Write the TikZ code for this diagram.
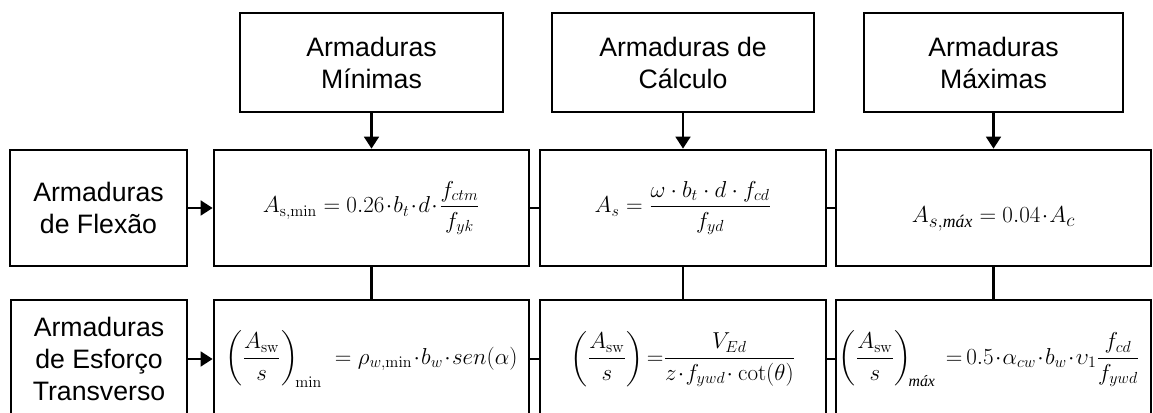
\documentclass[tikz,border=0pt]{standalone}
\usepackage{amsmath}
\usepackage[no-math]{fontspec}
\setmainfont{Liberation Sans}
\newfontfamily\serifitfont{Liberation Serif}
\usetikzlibrary{arrows.meta}
\tikzset{
  box/.style={draw, line width=2pt, align=center, inner sep=0pt,
    font=\fontsize{20}{24}\selectfont},
  fbox/.style={draw, line width=2pt, align=center, inner sep=0pt,
    font=\fontsize{17}{20}\selectfont},
  conn/.style={line width=2pt},
  arr/.style={line width=2pt, -{Triangle[length=9pt,width=11pt]}},
}
\newcommand{\tdot}{\mkern1mu{\cdot}\mkern1mu}
\newcommand{\maxsub}{\text{\serifitfont\itshape máx}}
\begin{document}
\begin{tikzpicture}[x=0.75pt,y=-0.75pt]
\useasboundingbox (0,0) rectangle (1153,413);
\clip (0,0) rectangle (1153,413);
% top boxes
\node[box, minimum width=197.25pt, minimum height=74.25pt] (T1) at (371.5,62.5) {Armaduras\\Mínimas};
\node[box, minimum width=196.5pt, minimum height=74.25pt] (T2) at (683,62.5) {Armaduras de\\Cálculo};
\node[box, minimum width=194.25pt, minimum height=74.25pt] (T3) at (993.5,62.5) {Armaduras\\Máximas};
% row 1
\node[box, minimum width=132.75pt, minimum height=87pt] (L1) at (98.5,208) {Armaduras\\de Flexão};
\node[fbox, minimum width=236.25pt, minimum height=87pt] (F11) at (371.5,208)
  {\makebox[230pt]{$A_{\mathrm{s,min}} = 0.26\tdot b_t\tdot d\tdot \dfrac{f_{ctm}}{f_{yk}}$}};
\node[fbox, minimum width=214.5pt, minimum height=87pt] (F12) at (683,208)
  {\makebox[208pt]{$A_s = \dfrac{\omega\cdot b_t\cdot d\cdot f_{cd}}{f_{yd}}$}};
\node[fbox, minimum width=236.25pt, minimum height=87pt, font=\fontsize{19}{22}\selectfont] (F13) at (993.5,208)
  {\raisebox{-11pt}[0pt][0pt]{$A_{s,\maxsub} = 0.04\tdot A_c$}};
% row 2
\node[box, minimum width=132pt, minimum height=88.5pt] (L2) at (99,359) {Armaduras\\de Esforço\\Transverso};
\node[fbox, minimum width=236.25pt, minimum height=88.5pt] (F21) at (371.5,359)
  {\makebox[230pt]{$\left(\dfrac{A_{\mathrm{sw}}}{s}\right)_{\!\min} \; = \rho_{w,\min}\tdot b_w\tdot sen(\alpha)$}};
\node[fbox, minimum width=214.5pt, minimum height=88.5pt] (F22) at (683,359)
  {\makebox[208pt]{$\left(\dfrac{A_{\mathrm{sw}}}{s}\right) {=} \dfrac{V_{Ed}}{z\tdot f_{ywd}\tdot\cot(\theta)}$}};
\node[fbox, minimum width=236.25pt, minimum height=88.5pt] (F23) at (993.5,359)
  {\makebox[230pt][l]{\hspace{-1pt}$\left(\dfrac{A_{\mathrm{sw}}}{s}\right)_{\!\maxsub} \; {=}\, 0.5\tdot\alpha_{cw}\tdot b_w\tdot \upsilon_1\dfrac{f_{cd}}{f_{ywd}}$}};
% connectors
\draw[arr] (T1) -- (F11);
\draw[arr] (T2) -- (F12);
\draw[arr] (T3) -- (F13);
\draw[arr] (L1) -- (F11);
\draw[arr] (L2) -- (F21);
\draw[conn] (F11) -- (F12);
\draw[conn] (F12) -- (F13);
\draw[conn] (F21) -- (F22);
\draw[conn] (F22) -- (F23);
\draw[conn] (F11) -- (F21);
\draw[conn] (F12) -- (F22);
\draw[conn] (F13) -- (F23);
\end{tikzpicture}
\end{document}
